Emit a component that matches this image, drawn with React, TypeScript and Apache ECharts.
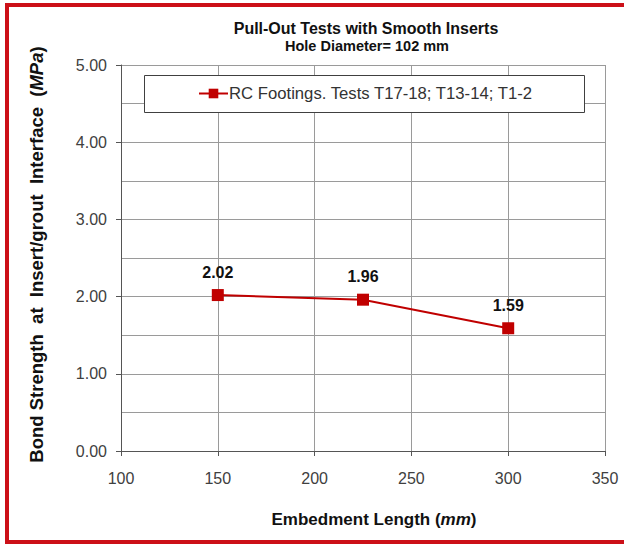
import React, { useEffect, useRef } from "react";
import * as echarts from "echarts";

const titleText = "Pull-Out Tests with Smooth Inserts";
const subtitleText = "Hole Diameter= 102 mm";
const seriesName = "RC Footings. Tests T17-18; T13-14; T1-2";
const embedmentLength = [150, 225, 300];
const bondStrength = [2.02, 1.96, 1.59];
const xTicks = { min: 100, max: 350, interval: 50 };
const yTicks = { min: 0, max: 5, interval: 1 };

const FONT = "'Liberation Sans', Arial, sans-serif";
const RED = "#c00000";

export default function App() {
  const ref = useRef<HTMLDivElement>(null);
  useEffect(() => {
    if (!ref.current) return;
    const chart = echarts.init(ref.current, null, { renderer: "svg" });
    const data = embedmentLength.map((x, i) => [x, bondStrength[i]]);
    chart.setOption({
      animation: false,
      backgroundColor: "#ffffff",
      textStyle: { fontFamily: FONT },
      title: [
        {
          text: titleText,
          left: 361,
          top: 15,
          textAlign: "center",
          textStyle: { fontFamily: FONT, fontSize: 16, fontWeight: "bold", color: "#111" },
        },
        {
          text: subtitleText,
          left: 362,
          top: 33,
          textAlign: "center",
          textStyle: { fontFamily: FONT, fontSize: 14.5, fontWeight: "bold", color: "#111" },
        },
      ],
      legend: {
        left: 198,
        top: 85,
        padding: 0,
        borderWidth: 0,
        itemWidth: 29,
        itemHeight: 12,
        textStyle: { fontFamily: FONT, fontSize: 16.7, color: "#333", padding: [0, 0, 0, -4] },
        data: [seriesName],
      },
      grid: { left: 121, right: 19, top: 65, bottom: 93, containLabel: false },
      xAxis: {
        type: "value",
        min: xTicks.min,
        max: xTicks.max,
        interval: xTicks.interval,
        name: "{b|Embedment Length (}{i|mm}{b|)}",
        nameLocation: "middle",
        nameGap: 60,
        nameTextStyle: {
          padding: [0, 0, 0, 22],
          rich: {
            b: { fontFamily: FONT, fontSize: 17, fontWeight: "bold", color: "#111" },
            i: { fontFamily: FONT, fontSize: 17, fontWeight: "bold", fontStyle: "italic", color: "#111" },
          },
        },
        axisLine: { show: true, lineStyle: { color: "#555", width: 1 } },
        axisTick: { show: true, inside: false, length: 5, lineStyle: { color: "#555" } },
        axisLabel: { margin: 19, fontFamily: FONT, fontSize: 16, color: "#404040" },
        splitLine: { show: true, lineStyle: { color: "#9a9a9a", width: 1 } },
      },
      yAxis: {
        type: "value",
        min: yTicks.min,
        max: yTicks.max,
        interval: yTicks.interval,
        name: "{b|Bond Strength  at  Insert/grout  Interface  (}{i|MPa}{b|)}",
        nameLocation: "middle",
        nameGap: 75,
        nameTextStyle: {
          padding: [0, 0, 0, 7],
          rich: {
            b: { fontFamily: FONT, fontSize: 18.5, fontWeight: "bold", color: "#111" },
            i: { fontFamily: FONT, fontSize: 18.5, fontWeight: "bold", fontStyle: "italic", color: "#111" },
          },
        },
        axisLine: { show: true, lineStyle: { color: "#555", width: 1 } },
        axisTick: { show: true, inside: false, length: 5, lineStyle: { color: "#555" } },
        minorTick: { show: false, splitNumber: 2 },
        minorSplitLine: { show: true, lineStyle: { color: "#9a9a9a", width: 1 } },
        axisLabel: {
          margin: 14,
          fontFamily: FONT,
          fontSize: 16,
          color: "#404040",
          formatter: (v: number) => v.toFixed(2),
        },
        splitLine: { show: true, lineStyle: { color: "#9a9a9a", width: 1 } },
      },
      series: [
        {
          name: seriesName,
          type: "line",
          data,
          symbol: "rect",
          symbolSize: 12,
          itemStyle: { color: RED },
          lineStyle: { color: RED, width: 2 },
          label: {
            show: true,
            position: "top",
            distance: 9,
            fontFamily: FONT,
            fontSize: 16,
            fontWeight: "bold",
            color: "#111",
            formatter: (p: any) => Number(p.value[1]).toFixed(2),
          },
        },
      ],
      graphic: [
        {
          type: "rect",
          shape: { x: 144.5, y: 75.5, width: 440, height: 37 },
          style: { fill: "#fff", stroke: "#404040", lineWidth: 1 },
          silent: true,
          z: 3,
        },
        {
          type: "rect",
          shape: { x: 7, y: 5, width: 700, height: 537 },
          style: { fill: "none", stroke: "#cc1018", lineWidth: 4 },
          silent: true,
          z: 100,
        },
      ],
    });
    return () => chart.dispose();
  }, []);
  return (
    <div
      ref={ref}
      style={{ position: "fixed", left: 0, top: 0, width: 624, height: 544 }}
    />
  );
}
